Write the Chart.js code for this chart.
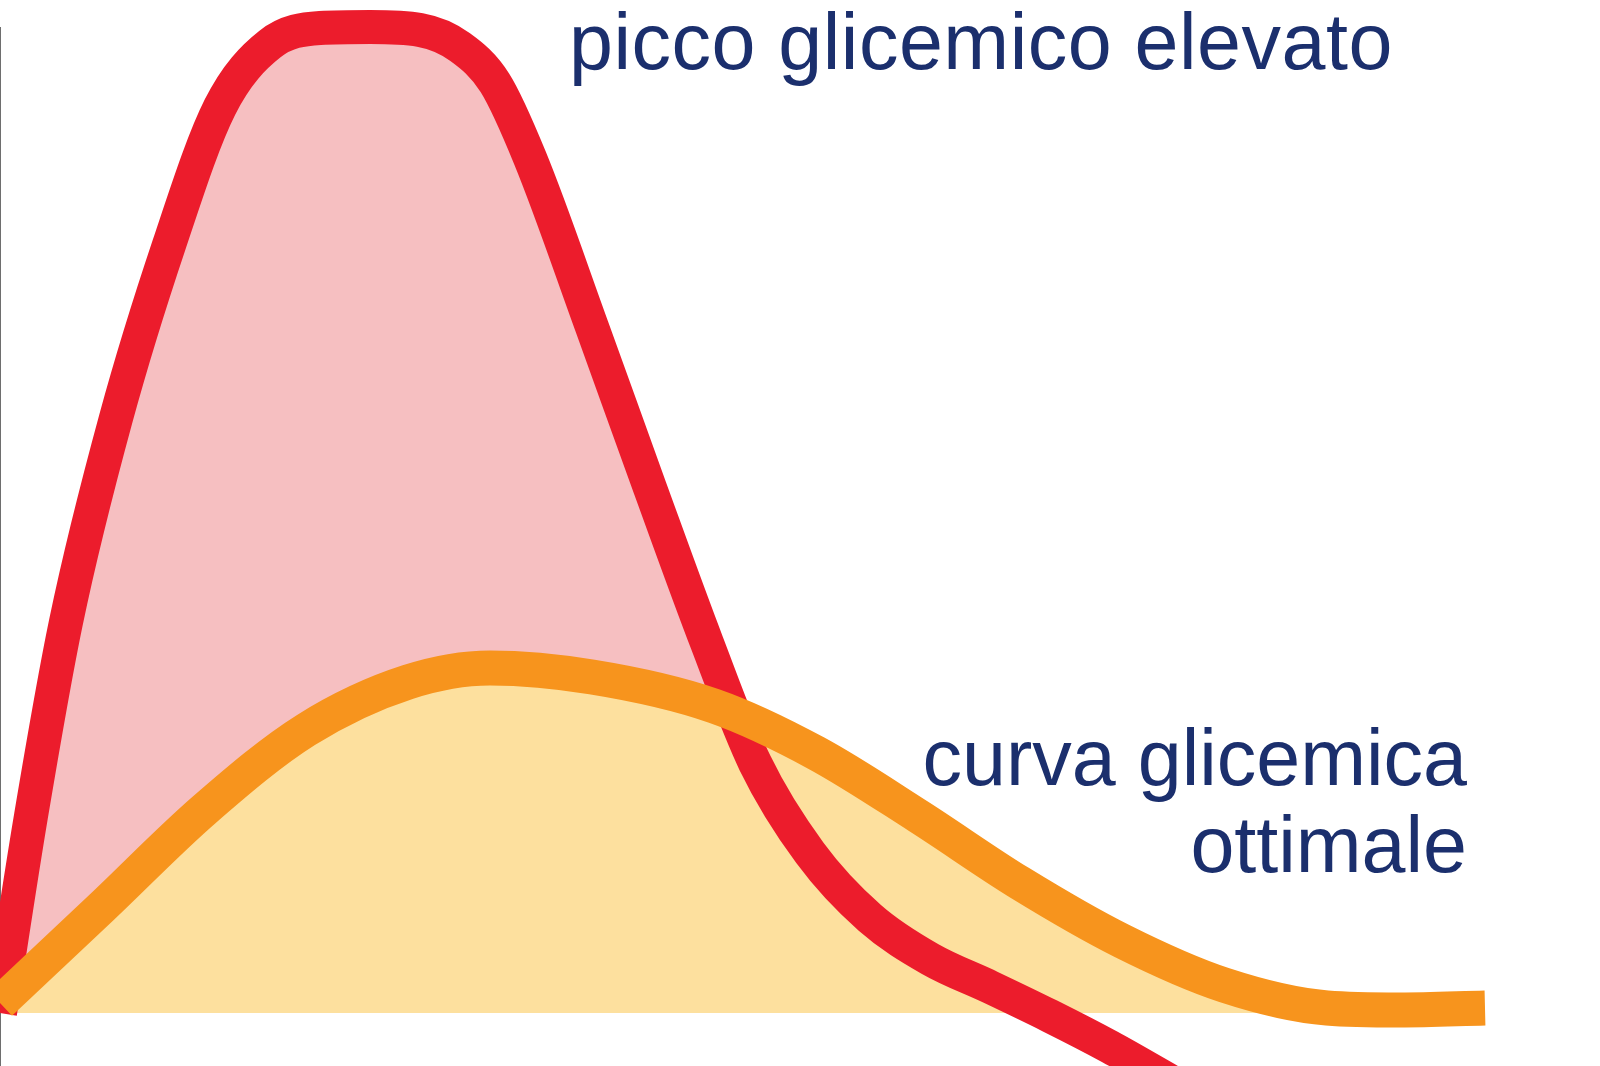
<!DOCTYPE html>
<html>
<head>
<meta charset="utf-8">
<script src="https://cdn.jsdelivr.net/npm/chart.js@4/dist/chart.umd.min.js"></script>
<style>
  html, body { margin: 0; padding: 0; background: #ffffff; }
  #wrap { position: relative; width: 1600px; height: 1066px; overflow: hidden; }
  canvas { position: absolute; left: 0; top: 0; }
  .lbl { position: absolute; font-family: "Liberation Sans", Arial, sans-serif; font-size: 79px; color: #1b2f6d; white-space: nowrap; }
  #l1 { left: 569px; top: 2px; line-height: 79px; letter-spacing: 0.5px; }
  #l2 { right: 133px; top: 714px; line-height: 87px; text-align: right; }
</style>
</head>
<body>
<div id="wrap">
  <canvas id="c" width="1600" height="1066"></canvas>
  <div class="lbl" id="l1">picco glicemico elevato</div>
  <div class="lbl" id="l2">curva glicemica<br>ottimale</div>
</div>
<script>
// Time (arbitrary units) and blood-glucose response (arbitrary units above baseline)
const highX = [0, 3.1, 6.6, 11.6, 16.9, 22.0, 27.0, 32.0, 37.0, 42.0, 46.0, 49.5, 53.0, 59.2, 65.0, 70.7, 75.5, 81.0, 87.0, 93.0, 99.0, 105.0, 111.0, 117.0];
const highY = [0, 19.7, 39.1, 59.5, 76.8, 90.6, 96.9, 98.5, 98.6, 98.3, 96.6, 93.0, 85.5, 68.6, 52.5, 37.0, 25.0, 16.0, 9.5, 5.4, 2.6, -0.3, -3.4, -6.8];

const optX = [0, 10.2, 20.4, 30.6, 40.8, 49.0, 59.2, 71.4, 81.6, 91.8, 102.0, 112.2, 122.4, 132.7, 140.0, 148.5];
const optY = [1.0, 10.6, 20.3, 28.3, 33.1, 34.5, 33.6, 30.7, 26.0, 19.7, 13.0, 7.2, 2.8, 0.5, 0.3, 0.5];

const seriesNames = ["curva glicemica ottimale", "picco glicemico elevato"];

const toPts = (xs, ys) => xs.map((x, i) => ({ x: x, y: ys[i] }));

new Chart(document.getElementById('c'), {
  type: 'line',
  data: {
    datasets: [
      {
        label: seriesNames[0],
        data: toPts(optX, optY),
        borderColor: '#f7941d',
        borderWidth: 35,
        backgroundColor: '#fde09e',
        fill: { target: 'origin', above: '#fde09e', below: 'rgba(0,0,0,0)' },
        pointRadius: 0,
        cubicInterpolationMode: 'monotone',
        clip: false
      },
      {
        label: seriesNames[1],
        data: toPts(highX, highY),
        borderColor: '#ec1c2c',
        borderWidth: 34,
        backgroundColor: '#f6bfc1',
        fill: { target: 'origin', above: '#f6bfc1', below: 'rgba(0,0,0,0)' },
        pointRadius: 0,
        cubicInterpolationMode: 'monotone',
        clip: false
      }
    ]
  },
  options: {
    responsive: false,
    animation: false,
    devicePixelRatio: 1,
    layout: { padding: { top: 28, left: 0, right: 0, bottom: 0 } },
    plugins: {
      legend: { display: false },
      tooltip: { enabled: false },
      filler: { drawTime: 'beforeDatasetsDraw' }
    },
    scales: {
      x: {
        type: 'linear', min: 0, max: 160,
        display: false
      },
      y: {
        type: 'linear', min: -5.3, max: 98.5,
        display: true,
        ticks: { display: false },
        grid: { display: false, drawTicks: false },
        border: { display: true, color: '#6e6e6e', width: 2 }
      }
    }
  }
});
</script>
</body>
</html>
